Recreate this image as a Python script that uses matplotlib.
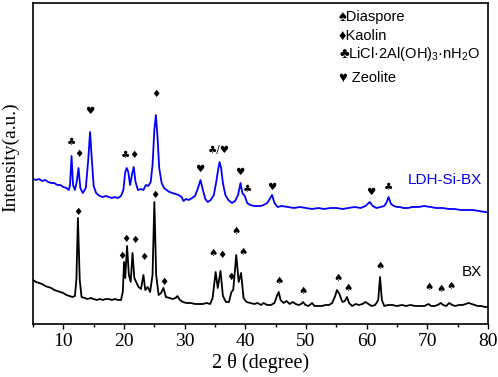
import matplotlib
matplotlib.use("Agg")
import matplotlib.pyplot as plt
from matplotlib.ticker import MultipleLocator

plt.rcParams['font.family'] = ['Liberation Serif', 'DejaVu Serif']
plt.rcParams['mathtext.fontset'] = 'custom'
plt.rcParams['mathtext.rm'] = 'Liberation Sans'
plt.rcParams['mathtext.it'] = 'Liberation Sans'

#***************** Data ***************#

# LDH-Si-BX (blue)
tt_ldh = [5.0, 5.5, 6.0, 6.5, 7.0, 7.5, 8.0, 8.5, 9.0, 9.5, 10.0, 10.5, 10.9, 11.1, 11.35,
          11.6, 11.9, 12.2, 12.5, 12.8, 13.2, 13.7, 14.1, 14.4, 14.7, 15.0, 15.4, 16.0, 16.5,
          17.0, 17.5, 18.0, 18.5, 19.0, 19.5, 19.9, 20.2, 20.45, 20.7, 21.0, 21.3, 21.6, 21.9,
          22.3, 22.8, 23.2, 23.6, 24.0, 24.4, 24.7, 25.0, 25.25, 25.5, 25.8, 26.2, 26.6, 27.0,
          27.5, 28.0, 28.5, 29.0, 29.5, 29.8, 30.2, 30.7, 31.2, 31.7, 32.2, 32.6, 33.0, 33.4,
          33.8, 34.3, 34.8, 35.2, 35.5, 35.75, 36.0, 36.3, 36.7, 37.2, 37.8, 38.3, 38.8, 39.2,
          39.5, 39.9, 40.3, 40.8, 41.5, 42.0, 42.5, 43.0, 43.6, 44.0, 44.4, 44.8, 45.3, 46.0,
          47.0, 48.0, 49.0, 50.0, 51.0, 52.0, 53.0, 54.0, 55.0, 56.0, 57.0, 58.0, 59.0, 59.8,
          60.5, 61.0, 61.6, 62.3, 62.9, 63.3, 63.6, 64.0, 64.5, 65.0, 65.5, 66.0, 66.8, 67.5,
          68.5, 69.5, 70.5, 71.5, 72.5, 73.5, 74.5, 75.5, 76.5, 77.5, 78.5, 79.5, 80.0]
int_ldh = [145, 144, 145, 143, 144, 142, 141, 141, 139, 139, 137, 136, 134, 139, 168,
           139, 134, 142, 156, 136, 131, 136, 164, 192, 164, 138, 131, 128, 127,
           128, 127, 126, 127, 126, 128, 134, 152, 156, 152, 139, 149, 157, 142,
           134, 135, 134, 139, 138, 142, 159, 194, 209, 189, 156, 141, 136, 134,
           132, 131, 130, 129, 127, 123, 125, 124, 126, 128, 136, 144, 134, 125,
           122, 124, 129, 142, 154, 162, 156, 141, 129, 124, 121, 123, 129, 141,
           131, 128, 121, 119, 118, 118, 118, 119, 121, 125, 129, 121, 117, 118,
           117, 116, 117, 116, 115, 116, 115, 116, 116, 115, 116, 117, 116, 118,
           122, 118, 116, 117, 118, 122, 127, 120, 118, 117, 117, 116, 116, 117,
           117, 118, 117, 116, 116, 115, 115, 114, 114, 114, 113, 112, 111.5]

# BX (black)
tt_bx = [5.0, 5.5, 6.0, 6.5, 7.0, 7.5, 8.0, 8.5, 9.0, 9.5, 10.0, 10.5, 11.0, 11.5, 11.9,
         12.15, 12.4, 12.7, 13.0, 13.5, 14.0, 14.5, 15.0, 15.5, 16.0, 16.5, 17.0, 17.5, 18.0,
         18.5, 19.0, 19.5, 19.8, 20.0, 20.2, 20.5, 20.8, 21.1, 21.4, 21.7, 22.0, 22.4, 22.8,
         23.2, 23.5, 23.9, 24.3, 24.7, 25.0, 25.3, 25.7, 26.1, 26.5, 26.9, 27.5, 28.0, 28.5,
         28.8, 29.2, 29.7, 30.3, 31.0, 31.7, 32.3, 33.0, 33.6, 34.2, 34.6, 35.1, 35.45, 35.9,
         36.3, 36.8, 37.3, 37.7, 38.0, 38.5, 38.9, 39.3, 39.7, 40.2, 40.8, 41.5, 42.0, 42.6,
         43.0, 43.6, 44.2, 44.8, 45.2, 45.5, 45.8, 46.3, 46.8, 47.3, 47.8, 48.3, 48.8, 49.2,
         49.5, 49.9, 50.4, 51.0, 51.4, 52.0, 52.6, 53.2, 53.8, 54.3, 54.8, 55.1, 55.5, 56.0,
         56.4, 56.75, 57.1, 57.6, 58.2, 58.7, 59.3, 59.8, 60.3, 60.8, 61.4, 61.9, 62.2, 62.5,
         62.9, 63.5, 64.2, 65.0, 65.8, 66.5, 67.2, 68.0, 68.8, 69.5, 70.2, 70.6, 71.2, 71.7,
         72.2, 72.6, 73.1, 73.6, 74.1, 74.6, 75.2, 75.8, 76.3, 76.8, 77.3, 77.8, 78.3, 78.9,
         79.5, 80.0]
int_bx = [44, 42, 41, 40, 38, 37, 36, 34, 33, 32, 31, 29, 28, 27, 28,
          44, 106, 44, 27, 26, 25, 26, 25, 24, 25, 24, 25, 25, 24,
          25, 24, 24, 32, 62, 46, 78, 49, 42, 71, 46, 42, 37, 35,
          49, 34, 37, 32, 49, 122, 49, 29, 31, 36, 27, 26, 25, 26,
          28, 24, 22, 21, 21, 20, 20, 20, 21, 20, 26, 52, 36, 53,
          28, 22, 22, 32, 34, 69, 42, 51, 26, 22, 21, 20, 21, 19,
          21, 19, 19, 21, 28, 32, 24, 21, 23, 20, 22, 20, 19, 20,
          22, 19, 18, 21, 18, 18, 18, 19, 19, 21, 28, 34, 30, 22,
          23, 27, 21, 18, 20, 19, 20, 22, 20, 18, 19, 24, 47, 24,
          18, 19, 19, 18, 19, 18, 19, 18, 18, 18, 20, 18, 18, 19,
          21, 19, 18, 21, 19, 18, 19, 19, 20, 21, 20, 19, 18, 18,
          17, 17]

# phase markers: (2theta, height, symbol)
marks_ldh = [(11.3, 182, '♣'), (12.52, 170, '♦'), (14.33, 213, '♥'), (20.2, 169, '♣'),
             (21.6, 169, '♦'), (25.23, 230, '♦'), (32.47, 155, '♥'), (35.64, 174, '♣/♥'),
             (39.1, 152, '♥'), (40.31, 135, '♣'), (44.42, 137, '♥'), (60.6, 132, '♥'),
             (63.6, 137, '♣')]
marks_bx = [(12.45, 112, '♦'), (19.64, 68, '♦'), (20.3, 85, '♦'), (21.78, 84, '♦'),
            (23.2, 67, '♦'), (25.07, 129, '♦'), (26.55, 42, '♦'), (34.65, 71, '♠'),
            (36.1, 69, '♦'), (37.68, 47, '♦'), (38.5, 93, '♠'), (39.54, 72, '♠'),
            (45.62, 43, '♠'), (49.52, 33, '♠'), (55.21, 46, '♠'), (56.86, 36, '♠'),
            (62.24, 58, '♠'), (70.3, 37, '♠'), (72.27, 35, '♠'), (73.91, 38, '♠')]

legend_items = ['♠Diaspore', '♦Kaolin', '♣LiCl·2Al(OH)$_3$·nH$_2$O', '♥ Zeolite']
legend_y = [307, 288, 270, 246]

#*******************************************#

fig = plt.figure(figsize=(4.98, 3.77), dpi=100)
ax = fig.add_axes([0.0663, 0.1406, 0.9137, 0.8514])

ax.plot(tt_ldh, int_ldh, color='#0000ff', lw=1.3)
ax.plot(tt_bx, int_bx, color='black', lw=1.3)

sym_font = ['DejaVu Sans']
for x, y, s in marks_ldh + marks_bx:
    ax.text(x, y, s, ha='center', va='center', fontsize=7.5, family=sym_font)

for lab, y in zip(legend_items, legend_y):
    ax.text(55.4, y, lab, ha='left', va='center', fontsize=10.5,
            family=['Liberation Sans', 'DejaVu Sans'])

ax.text(79.0, 144, 'LDH-Si-BX', color='#0000ff', ha='right', va='center',
        fontsize=11, family=['Liberation Sans', 'DejaVu Sans'])
ax.text(79.0, 52, 'BX', color='black', ha='right', va='center',
        fontsize=11, family=['Liberation Sans', 'DejaVu Sans'])

ax.set_xlim(5, 80)
ax.set_ylim(0, 321)
ax.xaxis.set_major_locator(MultipleLocator(10))
ax.xaxis.set_minor_locator(MultipleLocator(5))
ax.tick_params(axis='x', which='major', direction='out', length=3.5, width=1.0, labelsize=14, pad=3)
ax.tick_params(axis='x', which='minor', direction='out', length=2, width=1.0)
ax.set_yticks([])
for sp in ax.spines.values():
    sp.set_linewidth(1.2)

ax.set_xlabel('2 θ (degree)', fontsize=14.5, labelpad=2)
ax.set_ylabel('Intensity(a.u.)', fontsize=14)
ax.yaxis.set_label_coords(-0.031, 0.52)

fig.savefig('out.png', dpi=100)
